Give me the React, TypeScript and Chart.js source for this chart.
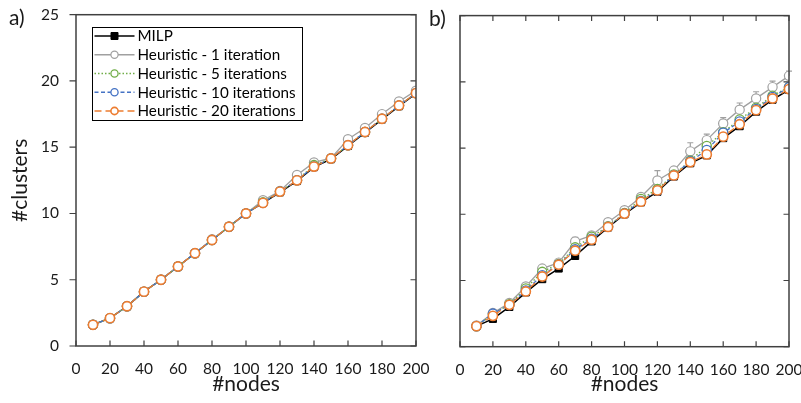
import React, { useEffect, useRef } from 'react';
import { Chart, registerables } from 'chart.js';

Chart.register(...registerables);

// ---------------- DATA ----------------
const nodes = [10, 20, 30, 40, 50, 60, 70, 80, 90, 100, 110, 120, 130, 140, 150, 160, 170, 180, 190, 200];
const xTickValues = [0, 20, 40, 60, 80, 100, 120, 140, 160, 180, 200];
const yTickValues = [0, 5, 10, 15, 20, 25];

const seriesLabels = ['MILP', 'Heuristic - 1 iteration', 'Heuristic - 5 iterations', 'Heuristic - 10 iterations', 'Heuristic - 20 iterations'];

// panel a)
const milpA = [1.6, 2.1, 3.0, 4.1, 5.0, 6.0, 7.0, 8.0, 9.0, 10.0, 10.8, 11.6, 12.45, 13.5, 14.1, 15.1, 16.1, 17.1, 18.1, 19.05];
const heur1A = [1.6, 2.1, 3.0, 4.1, 5.0, 6.0, 7.0, 8.05, 9.0, 10.0, 11.0, 11.7, 12.9, 13.85, 14.17, 15.6, 16.45, 17.5, 18.45, 19.27];
const heur5A = [1.6, 2.1, 3.0, 4.1, 5.0, 6.0, 7.0, 8.0, 9.0, 10.0, 10.85, 11.65, 12.5, 13.65, 14.15, 15.15, 16.15, 17.15, 18.15, 19.08];
const heur10A = [1.6, 2.1, 3.0, 4.1, 5.0, 6.0, 7.0, 8.0, 9.0, 10.0, 10.8, 11.65, 12.5, 13.54, 14.15, 15.15, 16.15, 17.15, 18.15, 19.08];
const heur20A = [1.6, 2.1, 3.0, 4.1, 5.0, 6.0, 7.0, 8.0, 9.0, 10.0, 10.8, 11.65, 12.5, 13.54, 14.15, 15.15, 16.15, 17.15, 18.15, 19.08];

// panel b)
const milpB = [1.55, 2.1, 3.0, 4.1, 5.1, 5.9, 6.85, 7.95, 9.0, 10.0, 10.9, 11.7, 12.85, 13.85, 14.45, 15.75, 16.65, 17.75, 18.65, 19.4];
const heur1B = [1.6, 2.55, 3.3, 4.55, 5.9, 6.35, 7.95, 8.4, 9.4, 10.3, 11.3, 12.55, 13.3, 14.75, 15.6, 16.85, 17.9, 18.75, 19.6, 20.45];
const heur1ErrB = [0, 0.1, 0.1, 0.15, 0.2, 0.15, 0.3, 0.15, 0.15, 0.15, 0.2, 0.75, 0.25, 0.65, 0.45, 0.45, 0.5, 0.5, 0.45, 0.35];
const heur5B = [1.55, 2.45, 3.2, 4.4, 5.65, 6.25, 7.5, 8.3, 9.1, 10.1, 11.15, 11.9, 13.0, 14.05, 15.15, 16.2, 17.15, 18.05, 18.95, 19.6];
const heur10B = [1.55, 2.5, 3.15, 4.25, 5.4, 6.2, 7.35, 8.15, 9.05, 10.05, 11.0, 11.8, 12.95, 14.0, 14.85, 16.15, 17.0, 17.95, 18.85, 19.6];
const heur20B = [1.55, 2.33, 3.16, 4.17, 5.3, 6.19, 7.25, 8.08, 9.04, 10.05, 10.95, 11.8, 12.93, 13.94, 14.52, 15.86, 16.8, 17.86, 18.74, 19.45];

// ---------------- STYLES ----------------
const FONT = 'Lato, "Open Sans", "DejaVu Sans", sans-serif';

const styles = [
  { color: '#000000', fill: '#000000', width: 1.5, dash: [], pointStyle: 'rect', radius: 5, pbw: 1, order: 4 },
  { color: '#a0a0a0', fill: '#ffffff', width: 1.3, dash: [], pointStyle: 'circle', radius: 4.6, pbw: 1.2, order: 3 },
  { color: '#70ad47', fill: '#ffffff', width: 1.3, dash: [1.5, 2], pointStyle: 'circle', radius: 4.6, pbw: 1.3, order: 2 },
  { color: '#4472c4', fill: '#ffffff', width: 1.3, dash: [4, 2.5], pointStyle: 'circle', radius: 4.6, pbw: 1.3, order: 1 },
  { color: '#ed7d31', fill: '#ffffff', width: 1.3, dash: [7, 4], pointStyle: 'circle', radius: 4.6, pbw: 1.6, order: 0 },
];

function buildDatasets(values: number[][], errs: (number[] | null)[]) {
  return values.map((vals, i) => {
    const s = styles[i];
    return {
      label: seriesLabels[i],
      data: nodes.map((x, j) => ({ x, y: vals[j] })),
      borderColor: s.color,
      backgroundColor: s.fill,
      borderWidth: s.width,
      borderDash: s.dash,
      pointStyle: s.pointStyle,
      pointRadius: s.radius,
      pointBorderWidth: s.pbw,
      pointBackgroundColor: s.fill,
      pointBorderColor: s.color,
      order: s.order,
      tension: 0,
      errorPlus: errs[i],
    } as any;
  });
}

// ---------------- PLUGINS ----------------
const errorBarPlugin = {
  id: 'errorBars',
  beforeDatasetsDraw(chart: any) {
    const { ctx } = chart;
    const ys = chart.scales.y;
    chart.data.datasets.forEach((ds: any, i: number) => {
      if (!ds.errorPlus) return;
      const meta = chart.getDatasetMeta(i);
      ctx.save();
      ctx.strokeStyle = ds.borderColor;
      ctx.lineWidth = 1.2;
      meta.data.forEach((pt: any, j: number) => {
        const e = ds.errorPlus[j];
        if (!e) return;
        const v = ds.data[j].y;
        const y0 = ys.getPixelForValue(v);
        const y1 = ys.getPixelForValue(v + e);
        ctx.beginPath();
        ctx.moveTo(pt.x, y0);
        ctx.lineTo(pt.x, y1);
        ctx.moveTo(pt.x - 3, y1);
        ctx.lineTo(pt.x + 3, y1);
        ctx.stroke();
      });
      ctx.restore();
    });
  },
};

const framePlugin = {
  id: 'frame',
  afterDatasetsDraw(chart: any, _args: any, opts: any) {
    const { ctx, chartArea: a } = chart;
    const xs = chart.scales.x;
    const ys = chart.scales.y;
    const len = 5.5;
    ctx.save();
    ctx.strokeStyle = '#404040';
    ctx.lineWidth = 1.5;
    ctx.strokeRect(a.left, a.top, a.right - a.left, a.bottom - a.top);
    ctx.lineWidth = 1.2;
    ctx.beginPath();
    xTickValues.forEach((v) => {
      const x = xs.getPixelForValue(v);
      ctx.moveTo(x, a.bottom);
      ctx.lineTo(x, a.bottom - len);
      if (opts.top) {
        ctx.moveTo(x, a.top);
        ctx.lineTo(x, a.top + len);
      }
    });
    yTickValues.forEach((v) => {
      const y = ys.getPixelForValue(v);
      if (opts.leftOut) {
        ctx.moveTo(a.left, y);
        ctx.lineTo(a.left - len - 1, y);
      } else {
        ctx.moveTo(a.left, y);
        ctx.lineTo(a.left + len, y);
      }
      ctx.moveTo(a.right, y);
      ctx.lineTo(a.right - len, y);
    });
    ctx.stroke();
    ctx.restore();
  },
};

function drawMarker(ctx: CanvasRenderingContext2D, ds: any, x: number, y: number, r: number) {
  ctx.save();
  ctx.setLineDash([]);
  ctx.lineWidth = ds.pointBorderWidth;
  ctx.strokeStyle = ds.pointBorderColor;
  ctx.fillStyle = ds.pointBackgroundColor;
  ctx.beginPath();
  if (ds.pointStyle === 'rect') {
    ctx.rect(x - r, y - r, 2 * r, 2 * r);
  } else {
    ctx.arc(x, y, r, 0, Math.PI * 2);
  }
  ctx.fill();
  ctx.stroke();
  ctx.restore();
}

const boxLegendPlugin = {
  id: 'boxLegend',
  afterDraw(chart: any, _args: any, opts: any) {
    if (!opts || !opts.show) return;
    const { ctx, chartArea: a } = chart;
    const left = Math.round(a.left + 16) + 0.5;
    const top = Math.round(a.top + 12.5) + 0.5;
    const w = 210;
    const h = 93;
    ctx.save();
    ctx.fillStyle = '#ffffff';
    ctx.fillRect(left, top, w, h);
    ctx.strokeStyle = '#000000';
    ctx.lineWidth = 1;
    ctx.strokeRect(left, top, w, h);
    chart.data.datasets.forEach((ds: any, i: number) => {
      const y = top + 8.5 + i * 18.75;
      const x0 = left + 2;
      const x1 = left + 42;
      ctx.save();
      ctx.setLineDash(ds.borderDash || []);
      ctx.strokeStyle = ds.borderColor;
      ctx.lineWidth = ds.borderWidth;
      ctx.beginPath();
      ctx.moveTo(x0, y);
      ctx.lineTo(x1, y);
      ctx.stroke();
      ctx.restore();
      drawMarker(ctx, ds, (x0 + x1) / 2, y, ds.pointStyle === 'rect' ? 3.5 : 3.6);
      ctx.fillStyle = '#000000';
      ctx.font = `15.2px ${FONT}`;
      ctx.textBaseline = 'middle';
      ctx.textAlign = 'left';
      ctx.fillText(ds.label, left + 45, y + 0.5);
    });
    ctx.restore();
  },
};

// ---------------- CHART CONFIG ----------------
function makeConfig(panel: 'a' | 'b'): any {
  const isA = panel === 'a';
  const datasets = isA
    ? buildDatasets([milpA, heur1A, heur5A, heur10A, heur20A], [null, null, null, null, null])
    : buildDatasets([milpB, heur1B, heur5B, heur10B, heur20B], [null, heur1ErrB, null, null, null]);
  const yWidth = isA ? 76 : 60;
  const xHeight = isA ? 57 : 56.3;
  return {
    type: 'line',
    data: { datasets },
    plugins: [errorBarPlugin, framePlugin, boxLegendPlugin],
    options: {
      animation: false,
      responsive: false,
      devicePixelRatio: 1,
      layout: { padding: isA ? { left: 0, right: 24, top: 14.7, bottom: 0 } : { left: 0, right: 12, top: 15.6, bottom: 0 } },
      plugins: {
        legend: { display: false },
        tooltip: { enabled: false },
        frame: { leftOut: isA, top: !isA },
        boxLegend: { show: isA },
      },
      scales: {
        x: {
          type: 'linear',
          min: 0,
          max: 200,
          afterBuildTicks: (s: any) => {
            s.ticks = xTickValues.map((v) => ({ value: v }));
          },
          afterFit: (s: any) => {
            s.height = xHeight;
            s.paddingLeft = 0;
            s.paddingRight = 0;
          },
          grid: { display: false, drawTicks: false },
          border: { display: false },
          ticks: { padding: 14, color: '#1a1a1a', font: { size: 15.5, family: FONT }, maxRotation: 0, autoSkip: false },
          title: { display: true, text: '#nodes', color: '#1a1a1a', font: { size: 21, family: FONT }, padding: { top: 0, bottom: 6 } },
        },
        y: {
          type: 'linear',
          min: 0,
          max: 25,
          afterBuildTicks: (s: any) => {
            s.ticks = yTickValues.map((v) => ({ value: v }));
          },
          afterFit: (s: any) => {
            s.width = yWidth;
            s.paddingTop = 0;
            s.paddingBottom = 0;
          },
          grid: { display: false, drawTicks: false },
          border: { display: false },
          ticks: { display: isA, padding: 17, color: '#1a1a1a', font: { size: 15.5, family: FONT } },
          title: { display: isA, text: '#clusters', color: '#1a1a1a', font: { size: 21, family: FONT }, padding: { top: 8, bottom: 0 } },
        },
      },
    },
  };
}

function Panel({ panel, left, width }: { panel: 'a' | 'b'; left: number; width: number }) {
  const ref = useRef<HTMLCanvasElement | null>(null);
  useEffect(() => {
    if (!ref.current) return;
    const chart = new Chart(ref.current, makeConfig(panel));
    return () => chart.destroy();
  }, [panel]);
  return (
    <canvas
      ref={ref}
      width={width}
      height={403}
      style={{ position: 'absolute', left, top: 0, width, height: 403, display: 'block' }}
    />
  );
}

export default function App() {
  Chart.defaults.font.family = FONT;
  return (
    <div style={{ position: 'absolute', left: 0, top: 0, width: 801, height: 403, background: '#ffffff', overflow: 'hidden' }}>
      <Panel panel="a" left={0} width={440} />
      <Panel panel="b" left={400} width={401} />
      <div style={{ position: 'absolute', left: 9, top: 5, fontFamily: FONT, fontSize: 21, lineHeight: '24px', color: '#1a1a1a' }}>a)</div>
      <div style={{ position: 'absolute', left: 429, top: 6, fontFamily: FONT, fontSize: 21, lineHeight: '24px', color: '#1a1a1a' }}>b)</div>
    </div>
  );
}
